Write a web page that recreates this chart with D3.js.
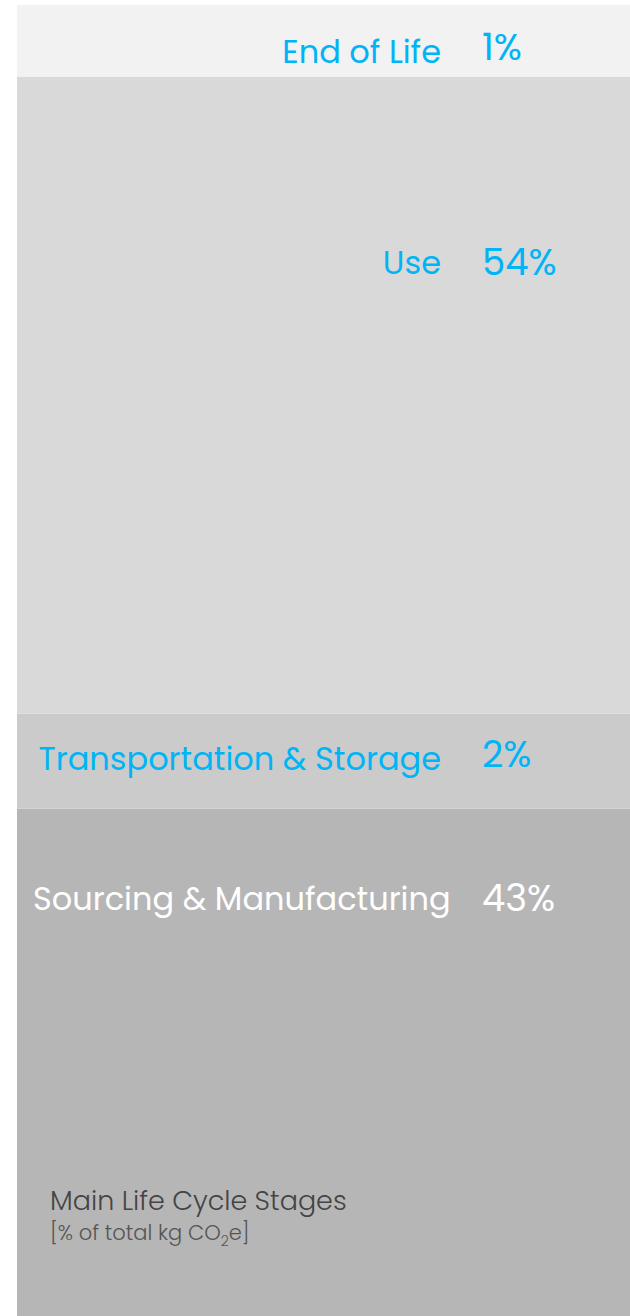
<!doctype html>
<head>
<meta charset="utf-8">
<script src="https://cdn.jsdelivr.net/npm/d3@7"></script>
<style>
body { margin: 0; background: #fff; }
text { font-family: Poppins, "Open Sans", sans-serif; }
</style>
</head>
<body>
<script>

// stages, bottom to top
var stages = ["Sourcing & Manufacturing", "Transportation & Storage", "Use", "End of Life"];
var shares = [43, 2, 54, 1];

var W = 630, H = 1316;
var box = {x0: 17, x1: 630, y0: 5, y1: 1316};
var fills = ["#b6b6b6", "#cbcbcb", "#d9d9d9", "#f2f2f2"];
var textCol = ["#ffffff", "#00b4f5", "#00b4f5", "#00b4f5"];
// where the label sits inside its band (fraction of band height)
var labelAt = [0.2, 0.59, 0.31, 0.81];

var svg = d3.select("body").append("svg")
  .attr("width", W)
  .attr("height", H);

// small stages get some room for their label
var room = 48;
var small = v => v < 5;
var extra = d3.sum(shares, v => small(v) ? room : 0);
var units = d3.sum(shares, v => small(v) ? 2*v : v);
var y = d3.scaleLinear()
  .domain([0, units])
  .range([0, (box.y1 - box.y0) - extra]);

var bands = [];
var bottom = box.y1;
shares.forEach((v, i) => {
  var h = small(v) ? room + y(2*v) : y(v);
  bands.push({name: stages[i], value: v, top: bottom - h, h: h, i: i});
  bottom -= h;
});

var g = svg.selectAll("g.band").data(bands).enter()
  .append("g").attr("class", "band");

g.append("rect")
  .attr("x", box.x0)
  .attr("width", box.x1 - box.x0)
  .attr("y", d => d.top)
  .attr("height", d => d.h)
  .style("fill", d => fills[d.i]);

// labels end near x=441, long ones start at the left margin instead
g.append("text")
  .attr("y", d => d.top + d.h*labelAt[d.i])
  .style("font-size", "32px")
  .style("fill", d => textCol[d.i])
  .text(d => d.name)
  .attr("x", function() { return Math.max(33, 441 - this.getComputedTextLength()); });

g.append("text")
  .attr("x", 482)
  .attr("y", d => d.top + d.h*labelAt[d.i] + (small(d.value) ? -3 : 1))
  .style("font-size", "37px")
  .style("fill", d => textCol[d.i])
  .text(d => d.value + "%");

var title = svg.append("g").attr("transform", "translate(50,1210)");
title.append("text")
  .style("font-size", "27px")
  .style("font-weight", 300)
  .style("fill", "#444")
  .text("Main Life Cycle Stages");
var sub = title.append("text")
  .attr("y", 30)
  .style("font-size", "21px")
  .style("font-weight", 300)
  .style("fill", "#555");
sub.append("tspan").text("[% of total kg CO");
sub.append("tspan").attr("dy", 6).style("font-size", "14px").text("2");
sub.append("tspan").attr("dy", -6).text("e]");

</script>
</body>
</html>
